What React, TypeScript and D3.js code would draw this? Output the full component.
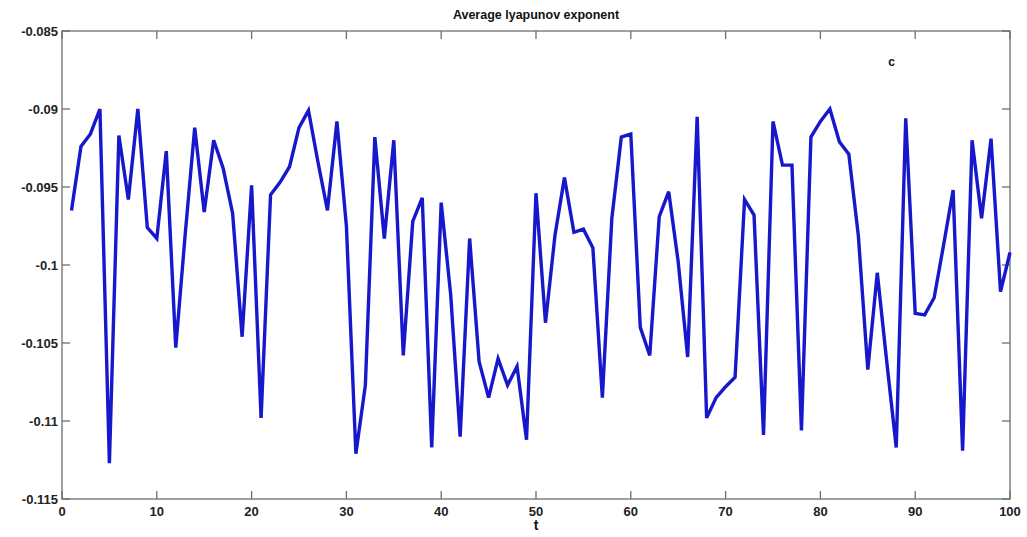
import React from "react";
import * as d3 from "d3";

const title = "Average lyapunov exponent";
const xLabel = "t";
const annotation = "c";
const xTicks = [0, 10, 20, 30, 40, 50, 60, 70, 80, 90, 100];
const yTicks = [-0.085, -0.09, -0.095, -0.1, -0.105, -0.11, -0.115];
const yTickLabels = ["-0.085", "-0.09", "-0.095", "-0.1", "-0.105", "-0.11", "-0.115"];
const tValues = d3.range(1, 101);
const lyapunov = [
  -0.0965, -0.0924, -0.0916, -0.0900, -0.1127, -0.0917, -0.0958, -0.0900, -0.0976, -0.0983,
  -0.0927, -0.1053, -0.0980, -0.0912, -0.0966, -0.0920, -0.0938, -0.0967, -0.1046, -0.0949,
  -0.1098, -0.0955, -0.0947, -0.0937, -0.0912, -0.0901, -0.0934, -0.0965, -0.0908, -0.0975,
  -0.1121, -0.1077, -0.0918, -0.0983, -0.0920, -0.1058, -0.0972, -0.0957, -0.1117, -0.0960,
  -0.1019, -0.1110, -0.0983, -0.1062, -0.1085, -0.1060, -0.1077, -0.1065, -0.1112, -0.0954,
  -0.1037, -0.0981, -0.0944, -0.0979, -0.0977, -0.0989, -0.1085, -0.0970, -0.0918, -0.0916,
  -0.1040, -0.1058, -0.0969, -0.0953, -0.0998, -0.1059, -0.0905, -0.1098, -0.1085, -0.1078,
  -0.1072, -0.0958, -0.0968, -0.1109, -0.0908, -0.0936, -0.0936, -0.1106, -0.0918, -0.0908,
  -0.0900, -0.0921, -0.0929, -0.0981, -0.1067, -0.1005, -0.1062, -0.1117, -0.0906, -0.1031,
  -0.1032, -0.1021, -0.0987, -0.0952, -0.1119, -0.0920, -0.0970, -0.0919, -0.1017, -0.0992,
];

const W = 1027;
const H = 537;
const left = 62;
const right = 1010;
const top = 31;
const bottom = 499;

export default function App() {
  const x = d3.scaleLinear().domain([0, 100]).range([left, right]);
  const y = d3.scaleLinear().domain([-0.115, -0.085]).range([bottom, top]);
  const line = d3
    .line<number>()
    .x((_, i) => x(tValues[i]))
    .y((d) => y(d));
  const font = "Arial, 'Liberation Sans', sans-serif";
  const axisColor = "#6e6e6e";
  const tickLen = 8;
  return (
    <svg
      width={W}
      height={H}
      style={{ position: "absolute", left: 0, top: 0, background: "#fff" }}
      fontFamily={font}
    >
      <rect x={0} y={0} width={W} height={H} fill="#fff" />
      <text x={(left + right) / 2} y={19} textAnchor="middle" fontSize={12.5} fontWeight="bold" fill="#111">
        {title}
      </text>
      {/* axes box */}
      <rect x={left} y={top} width={right - left} height={bottom - top} fill="none" stroke={axisColor} strokeWidth={1.3} />
      {xTicks.map((t) => (
        <g key={"xt" + t}>
          <line x1={x(t)} x2={x(t)} y1={bottom} y2={bottom - tickLen} stroke={axisColor} strokeWidth={1.3} />
          <line x1={x(t)} x2={x(t)} y1={top} y2={top + tickLen} stroke={axisColor} strokeWidth={1.3} />
          <text x={x(t)} y={bottom + 17} textAnchor="middle" fontSize={13} fontWeight="bold" fill="#222">
            {t}
          </text>
        </g>
      ))}
      {yTicks.map((v, i) => (
        <g key={"yt" + i}>
          <line x1={left} x2={left + tickLen} y1={y(v)} y2={y(v)} stroke={axisColor} strokeWidth={1.3} />
          <line x1={right} x2={right - tickLen} y1={y(v)} y2={y(v)} stroke={axisColor} strokeWidth={1.3} />
          <text x={left - 4} y={y(v) + 4.5} textAnchor="end" fontSize={13} fontWeight="bold" fill="#222">
            {yTickLabels[i]}
          </text>
        </g>
      ))}
      <path d={line(lyapunov) || ""} fill="none" stroke="#1717cc" strokeWidth={3.4} strokeLinejoin="miter" strokeMiterlimit={4} />
      <text x={x(87.5)} y={66} textAnchor="middle" fontSize={12} fontWeight="bold" fill="#111">
        {annotation}
      </text>
      <text x={x(50)} y={530} textAnchor="middle" fontSize={14} fontWeight="bold" fill="#111">
        {xLabel}
      </text>
    </svg>
  );
}
